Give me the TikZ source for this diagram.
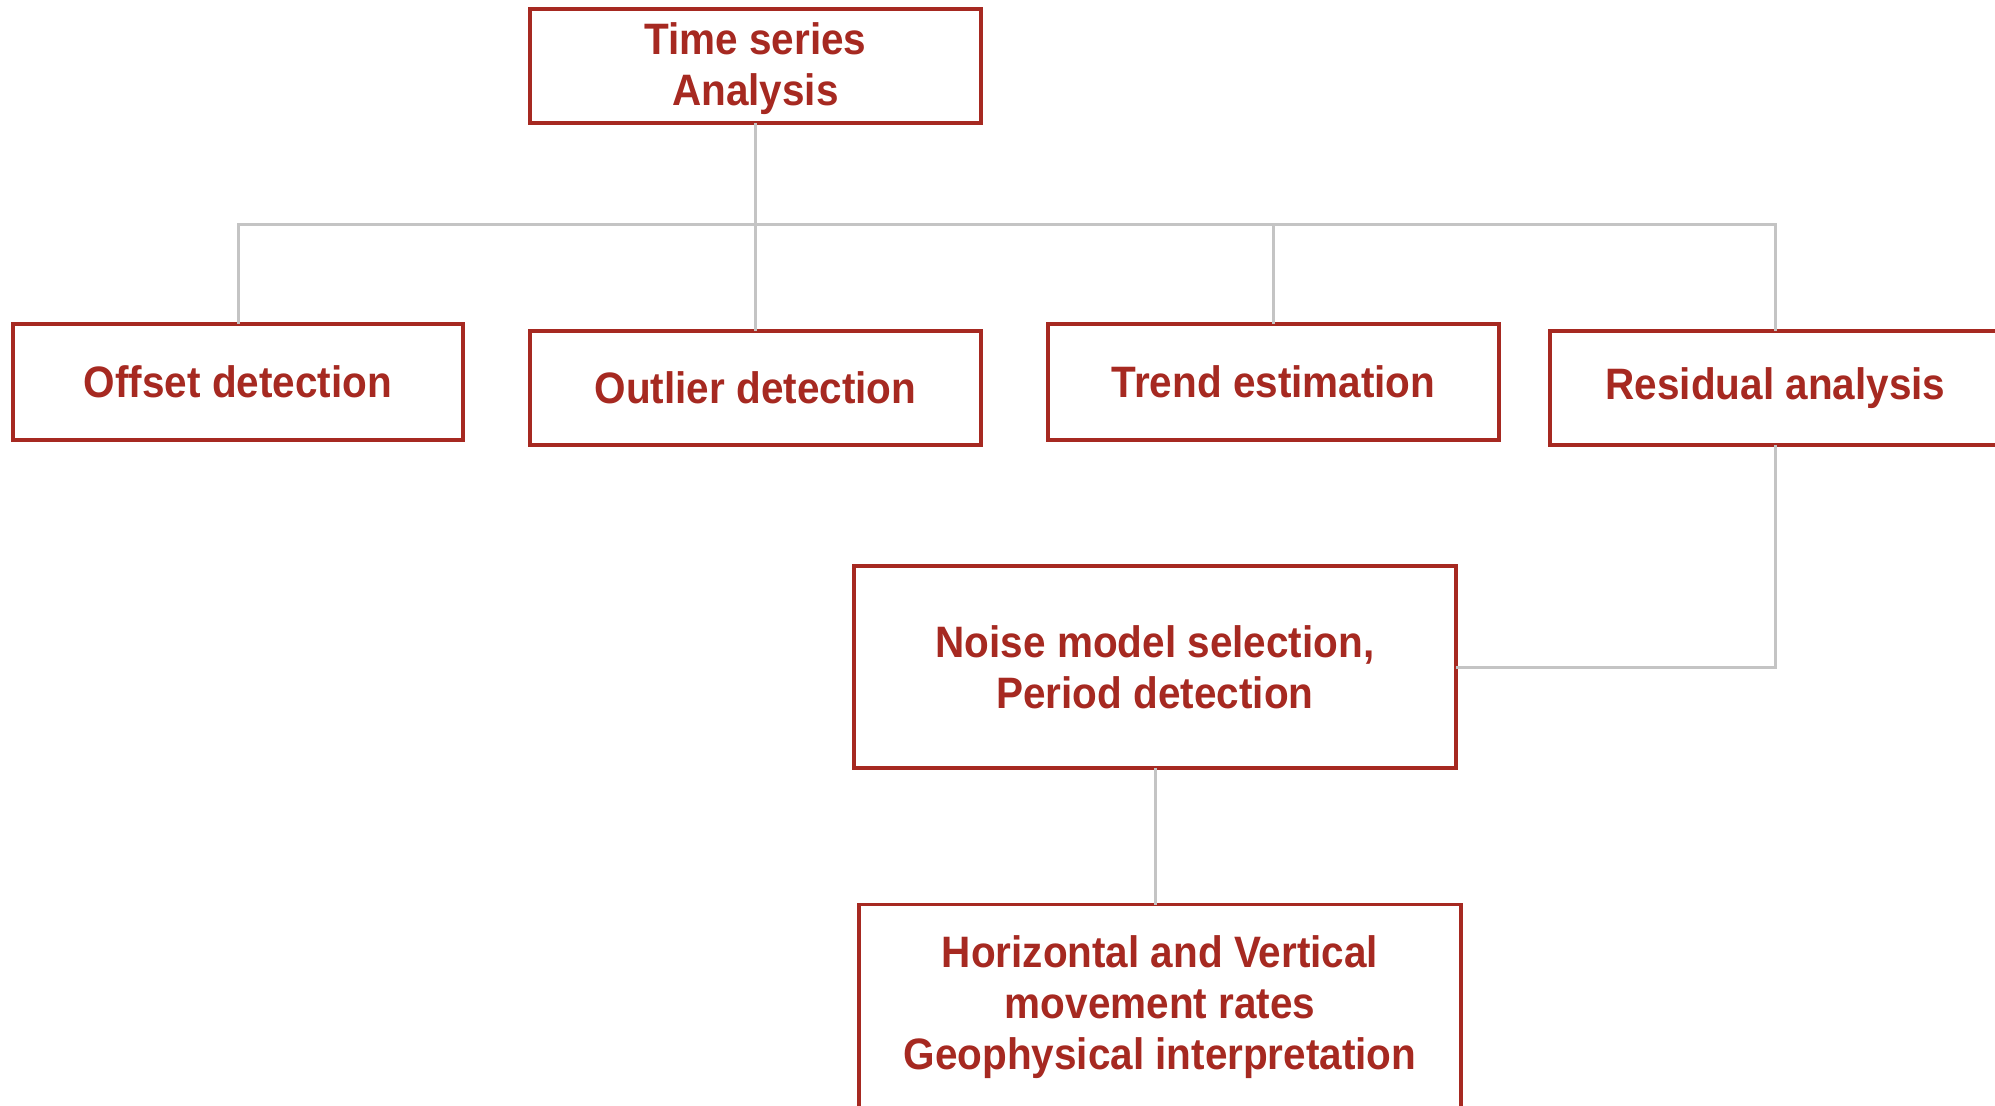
\documentclass[tikz,border=0pt]{standalone}
\usepackage{fontspec}
\setmainfont{Liberation Sans}[FakeStretch=0.92]
\definecolor{boxred}{RGB}{166,41,33}
\definecolor{linegray}{RGB}{196,196,196}
\begin{document}
\begin{tikzpicture}[x=0.5pt,y=-0.5pt,
  box/.style={draw=boxred, line width=1.7pt, fill=white, rectangle, outer sep=0pt,
    inner sep=0pt, align=center, text=boxred,
    font=\bfseries\fontsize{22}{25.5}\selectfont},
  conn/.style={draw=linegray, line width=1.5pt}]
\useasboundingbox (0,0) rectangle (1995,1105);
\clip (0,0) rectangle (1995,1105);
% nodes
\node[box, minimum width=225.5pt, minimum height=57pt] (top) at (755.5,66) {\raisebox{-1.8pt}[\height][\depth]{\begin{tabular}{@{}c@{}}Time series\\Analysis\end{tabular}}};
\node[box, minimum width=225pt, minimum height=58pt] (offset) at (238,382) {Offset detection};
\node[box, minimum width=225.5pt, minimum height=57pt] (outlier) at (755.5,388) {Outlier detection};
\node[box, minimum width=225.5pt, minimum height=58pt] (trend) at (1273.5,382) {Trend estimation};
\node[box, minimum width=225.5pt, minimum height=57pt] (resid) at (1775.5,388) {Residual analysis};
\node[box, minimum width=301pt, minimum height=101pt] (noise) at (1155,667) {Noise model selection,\\Period detection};
\node[box, minimum width=301pt, minimum height=103pt] (rates) at (1160,1007.5) {Horizontal and Vertical\\movement rates\\Geophysical interpretation};
% connectors
\coordinate (j) at (755.5,224);
\draw[conn] (top.south) -- (j);
\draw[conn] (j) -| (offset.north);
\draw[conn] (j) -- (outlier.north);
\draw[conn] (j) -| (trend.north);
\draw[conn] (j) -| (resid.north);
\draw[conn] (resid.south) |- (noise.east);
\draw[conn] (noise.south) -- (noise.south |- rates.north);
\end{tikzpicture}
\end{document}
